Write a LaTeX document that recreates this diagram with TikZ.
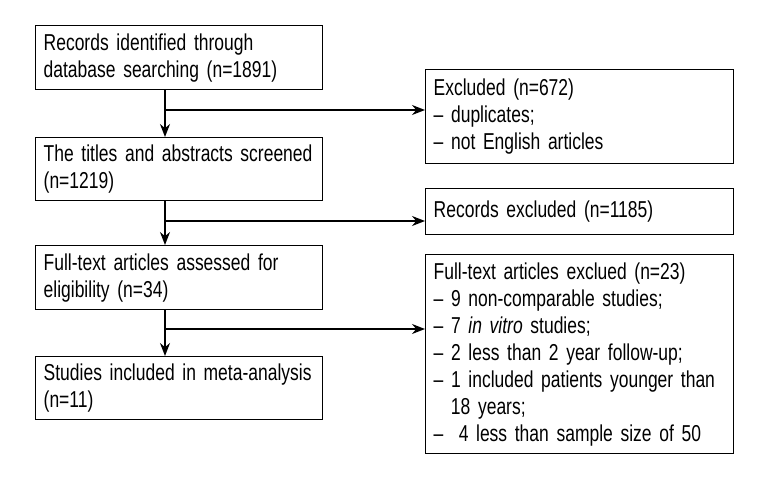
\documentclass[tikz,border=0pt]{standalone}
\usepackage{fontspec}
\setmainfont{Liberation Sans}[FakeStretch=0.76]
\usetikzlibrary{arrows.meta,positioning,calc}

\begin{document}
\begin{tikzpicture}[x=1pt,y=-1pt,
    box/.style={draw, line width=1.4pt, align=left, anchor=north west,
        inner xsep=8pt, inner ysep=0pt, font=\fontsize{23}{27}\selectfont},
    leftbox/.style={box, text width=271pt},
    rightbox/.style={box, text width=292pt},
    flow/.style={line width=1.4pt, -{Stealth[length=13pt,width=10pt]}}]
    \useasboundingbox (0,0) rectangle (768,480);

    % main column
    \node[leftbox, minimum height=64pt] (rec) at (35,25)
        {Records identified through\\database searching (n=1891)};
    \node[leftbox, minimum height=63pt] (scr) at (35,137)
        {The titles and abstracts screened\\(n=1219)};
    \node[leftbox, minimum height=64pt] (full) at (35,245)
        {Full-text articles assessed for\\eligibility (n=34)};
    \node[leftbox, minimum height=63pt] (inc) at (35,356)
        {Studies included in meta-analysis\\(n=11)};

    % exclusions
    \node[rightbox, minimum height=94pt] (exA) at (425,69)
        {Excluded (n=672)\\-- duplicates;\\-- not English articles};
    \node[rightbox, minimum height=46pt] (exB) at (425,188)
        {Records excluded (n=1185)};
    \node[rightbox, minimum height=199pt] (exC) at (425,254)
        {Full-text articles exclued (n=23)\\
         -- 9 non-comparable studies;\\
         -- 7 \textit{in vitro} studies;\\
         -- 2 less than 2 year follow-up;\\
         -- 1 included patients younger than\\
         \hspace*{0.75em}18 years;\\
         --\ \ 4 less than sample size of 50};

    \coordinate (trunk) at (165,0);
    \coordinate (b1) at (165,110);
    \coordinate (b2) at (165,221);
    \coordinate (b3) at (165,329);

    \draw[flow] (rec.south -| trunk) -- (scr.north -| trunk);
    \draw[flow] (scr.south -| trunk) -- (full.north -| trunk);
    \draw[flow] (full.south -| trunk) -- (inc.north -| trunk);
    \draw[flow] (b1) -- (b1 -| exA.west);
    \draw[flow] (b2) -- (b2 -| exB.west);
    \draw[flow] (b3) -- (b3 -| exC.west);
\end{tikzpicture}
\end{document}
